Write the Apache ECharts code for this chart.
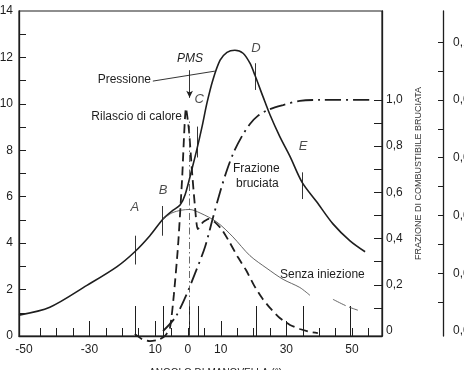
<!DOCTYPE html>
<html><head><meta charset="utf-8">
<script src="https://cdn.jsdelivr.net/npm/echarts@6/dist/echarts.min.js"></script>
<style>html,body{margin:0;padding:0;background:#fff}#c{width:464px;height:370px}</style>
</head><body><div id="c"></div>
<script>
// ---- data ----
// crank angle (deg) and cylinder pressure (left axis)
const pressureAngles = [-51.5,-42.1,-30.8,-21.6,-16.2,-11.6,-7.6,-4.9,-2.4,-0.9,1.2,2.7,4.3,5.8,7.6,9.8,11.9,14.3,16.8,18.9,20.4,22.9,25.0,28.0,31.1,34.8,39.3,44.2,49.4,54.0];
const pressureValues = [0.90,1.24,2.18,2.99,3.63,4.32,5.04,5.38,5.64,6.07,7.18,8.03,9.02,10.04,11.03,11.88,12.22,12.31,12.18,11.75,11.24,10.30,9.53,8.59,7.74,6.62,5.77,4.83,4.10,3.63];
// motored pressure "Senza iniezione"
const motoredAngles = [-7.6,-4.9,-2.0,0.5,3.7,8.8,13.7,18.9,24.1,29.0,34.1,37.2];
const motoredValues = [5.04,5.30,5.42,5.45,5.30,4.91,4.27,3.46,2.91,2.44,2.09,1.75];
const motoredTailAngles = [44.2,48.5,51.8];
const motoredTailValues = [1.58,1.28,1.11];
// heat release rate (far right axis)
const heatAngles = [-16.2,-14.0,-11.6,-9.1,-7.0,-5.5,-4.3,-3.0,-1.8,-0.6,0.3,1.2,2.1,3.0,4.6,6.4,8.2,10.4,12.8,15.2,17.7,20.1,22.6,25.0,28.0,31.1,34.1,37.2,39.6];
const heatValues = [-0.0010,-0.0028,-0.0035,-0.0031,-0.0017,0.0010,0.0125,0.0298,0.0523,0.0772,0.0696,0.0558,0.0436,0.0353,0.0377,0.0388,0.0377,0.0350,0.0305,0.0256,0.0211,0.0159,0.0114,0.0080,0.0045,0.0021,0.0007,-0.0003,-0.0007];
// burned fuel fraction (right axis)
const burnedAngles = [-7.6,-4.0,-0.9,2.1,5.2,7.6,9.8,11.9,14.0,16.5,18.9,21.3,24.4,29.0,34.1,40.2,56.1];
const burnedValues = [0.0,0.056,0.143,0.247,0.364,0.489,0.602,0.697,0.775,0.844,0.896,0.931,0.957,0.978,0.996,1.0,1.0];
// event markers A..E
const markerNames = ['A','B','C','D','E'];
const markerAngles = [-16.2,-7.9,2.7,20.4,34.8];
const markerLow = [3.08,4.32,7.69,10.6,5.9];
const markerHigh = [4.32,5.6,9.02,11.75,7.05];
const markerLabelAngles = [-16.2,-7.6,3.4,20.7,35.1];
const markerLabelValues = [5.56,6.28,10.21,12.39,8.16];
// axis ticks / labels
const xTickValues = [-50,-30,-10,0,10,30,50];
const xTickLabels = ['-50','-30','10','0','10','30','50'];
const xMinorTicks = [-45,-40,-35,-30,-25,-20,-15,-10,-5,0,5,10,15,20,25,30,35,40,45,50,55];
const xMediumTicks = [-30,-10,10,30];
const xLongTicks = [-16.2,-7.6,0.3,3.0,20.7,35.0,49.4];
const leftLabels = [0,2,4,6,8,10,12,14];
const leftTicks = [1,2,3,4,5,6,7,8,9,10,11,12,13];
const fracLabels = [0,0.2,0.4,0.6,0.8,1.0];
const fracTicks = [0.1,0.2,0.3,0.4,0.5,0.6,0.7,0.8,0.9,1.0];
const rateLabels = [0,0.02,0.04,0.06,0.08,0.10];
const rateTicks = [0.01,0.02,0.03,0.04,0.05,0.06,0.07,0.08,0.09,0.10];
// leader lines
const pressioneLeader = [[-10.7,10.98],[8.2,11.41]];
const pmsArrow = [[0.5,11.45],[0.5,10.26]];
const tdcLine = [[0.3,0],[0.3,9.3]];

const pairs = (a,b) => a.map((v,i)=>[v,b[i]]);
const INK = '#1e1e1e';
const FONT = '"Liberation Sans", Arial, sans-serif';

const chart = echarts.init(document.getElementById('c'), null, {renderer:'canvas'});
const hiddenX = (ticks,len) => ({
  type:'value', min:-51.5, max:59.15, position:'bottom', gridIndex:0,
  axisLine:{show:false, onZero:false}, splitLine:{show:false}, axisLabel:{show:false},
  axisTick:{show:true, inside:true, length:len, customValues:ticks, lineStyle:{color:INK,width:1}}
});
const option = {
  backgroundColor:'#ffffff',
  animation:false,
  textStyle:{fontFamily:FONT},
  grid:{left:19, right:82, top:11, bottom:34, show:true, borderColor:INK, borderWidth:1.2,
        backgroundColor:'transparent', containLabel:false, outerBoundsMode:'none'},
  xAxis:[
    {type:'value', min:-51.5, max:59.15, position:'bottom',
     axisLine:{show:true, onZero:false, lineStyle:{color:INK,width:1.3}},
     splitLine:{show:false},
     axisTick:{show:true, inside:true, length:8, customValues:xMinorTicks, lineStyle:{color:INK,width:1}},
     axisLabel:{show:true, customValues:xTickValues, margin:8, color:INK, fontSize:12, fontFamily:FONT,
       formatter:v=>{const i=xTickValues.indexOf(v);return i>=0?xTickLabels[i]:'';}},
     name:'ANGOLO DI MANOVELLA (°)', nameLocation:'middle', nameGap:32,
     nameTextStyle:{color:INK, fontSize:10, fontFamily:FONT, padding:[0,0,0,30]}
    },
    hiddenX(xMediumTicks,15),
    hiddenX(xLongTicks,30)
  ],
  yAxis:[
    {type:'value', min:0, max:14, position:'left',
     axisLine:{show:true, onZero:false, lineStyle:{color:INK,width:1.3}}, splitLine:{show:false},
     axisTick:{show:true, inside:true, length:7, customValues:leftTicks, lineStyle:{color:INK,width:1}},
     axisLabel:{customValues:leftLabels, margin:6, color:INK, fontSize:12, fontFamily:FONT, padding:[0,0,8,0]}
    },
    {type:'value', min:-0.0216, max:1.385, position:'right',
     axisLine:{show:true, onZero:false, lineStyle:{color:INK,width:1.3}}, splitLine:{show:false},
     axisTick:{show:true, inside:true, length:8, customValues:fracTicks, lineStyle:{color:INK,width:1}},
     axisLabel:{customValues:fracLabels, margin:4, color:INK, fontSize:12, fontFamily:FONT,
       formatter:v=> v===0?'0':v.toFixed(1).replace('.',',')},
     name:'FRAZIONE DI COMBUSTIBILE BRUCIATA', nameLocation:'middle', nameRotate:90, nameGap:26,
     nameTextStyle:{color:'#333', fontSize:9, fontFamily:FONT}
    },
    {type:'value', min:-0.00173, max:0.1108, position:'right', offset:61,
     axisLine:{show:true, onZero:false, lineStyle:{color:INK,width:1.3}}, splitLine:{show:false},
     axisTick:{show:true, inside:true, length:5, customValues:rateTicks, lineStyle:{color:INK,width:1}},
     axisLabel:{customValues:rateLabels, margin:10, color:INK, fontSize:12, fontFamily:FONT,
       formatter:v=> v.toFixed(2).replace('.',',')}
    }
  ],
  graphic:[
    {type:'text', x:151, y:80, style:{text:'Pressione', fill:INK, font:'12px '+FONT, align:'right', verticalAlign:'middle'}},
    {type:'text', x:190, y:59, style:{text:'PMS', fill:INK, font:'italic 12px '+FONT, align:'center', verticalAlign:'middle'}},
    {type:'text', x:182, y:117, style:{text:'Rilascio di calore', fill:INK, font:'12px '+FONT, align:'right', verticalAlign:'middle'}},
    {type:'text', x:233, y:169, style:{text:'Frazione', fill:INK, font:'12px '+FONT, align:'left', verticalAlign:'middle'}},
    {type:'text', x:236, y:184, style:{text:'bruciata', fill:INK, font:'12px '+FONT, align:'left', verticalAlign:'middle'}},
    {type:'text', x:280, y:275, style:{text:'Senza iniezione', fill:INK, font:'12px '+FONT, align:'left', verticalAlign:'middle'}}
  ],
  series:[
    {name:'Pressione', type:'line', xAxisIndex:0, yAxisIndex:0, data:pairs(pressureAngles,pressureValues),
     showSymbol:false, symbol:'none', smooth:0.3, lineStyle:{color:INK,width:1.6},
     markLine:{silent:true, symbol:['none','none'], label:{show:false}, animation:false,
       lineStyle:{color:INK,width:0.9,type:'solid'},
       data:[
         ...markerAngles.map((a,i)=>[{coord:[a,markerLow[i]]},{coord:[a,markerHigh[i]]}]),
         [{coord:pressioneLeader[0]},{coord:pressioneLeader[1]}],
         [{coord:pmsArrow[0]},{coord:pmsArrow[1], symbol:'arrow', symbolSize:[5,7]}],
         [{coord:tdcLine[0], lineStyle:{type:[7,3,1.5,3],width:0.8,color:'#444'}},{coord:tdcLine[1]}]
       ]}
    },
    {name:'Senza iniezione', type:'line', xAxisIndex:0, yAxisIndex:0, data:pairs(motoredAngles,motoredValues),
     symbol:'none', smooth:0.3, lineStyle:{color:'#555',width:0.9}},
    {name:'Senza iniezione (coda)', type:'line', xAxisIndex:0, yAxisIndex:0, data:pairs(motoredTailAngles,motoredTailValues),
     symbol:'none', smooth:0.3, lineStyle:{color:'#555',width:0.9,type:[14,4]}},
    {name:'Rilascio di calore', type:'line', xAxisIndex:0, yAxisIndex:2, data:pairs(heatAngles,heatValues),
     symbol:'none', smooth:0.2, clip:false, lineStyle:{color:INK,width:1.8,type:[9,5]}},
    {name:'Frazione bruciata', type:'line', xAxisIndex:0, yAxisIndex:1, data:pairs(burnedAngles,burnedValues),
     symbol:'none', smooth:0.3, lineStyle:{color:INK,width:1.8,type:[16,5,2,5]}},
    {name:'Eventi', type:'scatter', xAxisIndex:0, yAxisIndex:0, data:pairs(markerLabelAngles,markerLabelValues),
     symbolSize:0, silent:true,
     label:{show:true, position:'inside', color:INK, fontSize:13, fontStyle:'italic', fontFamily:FONT,
       formatter:p=>markerNames[p.dataIndex]}}
  ]
};
chart.setOption(option);
</script></body></html>
